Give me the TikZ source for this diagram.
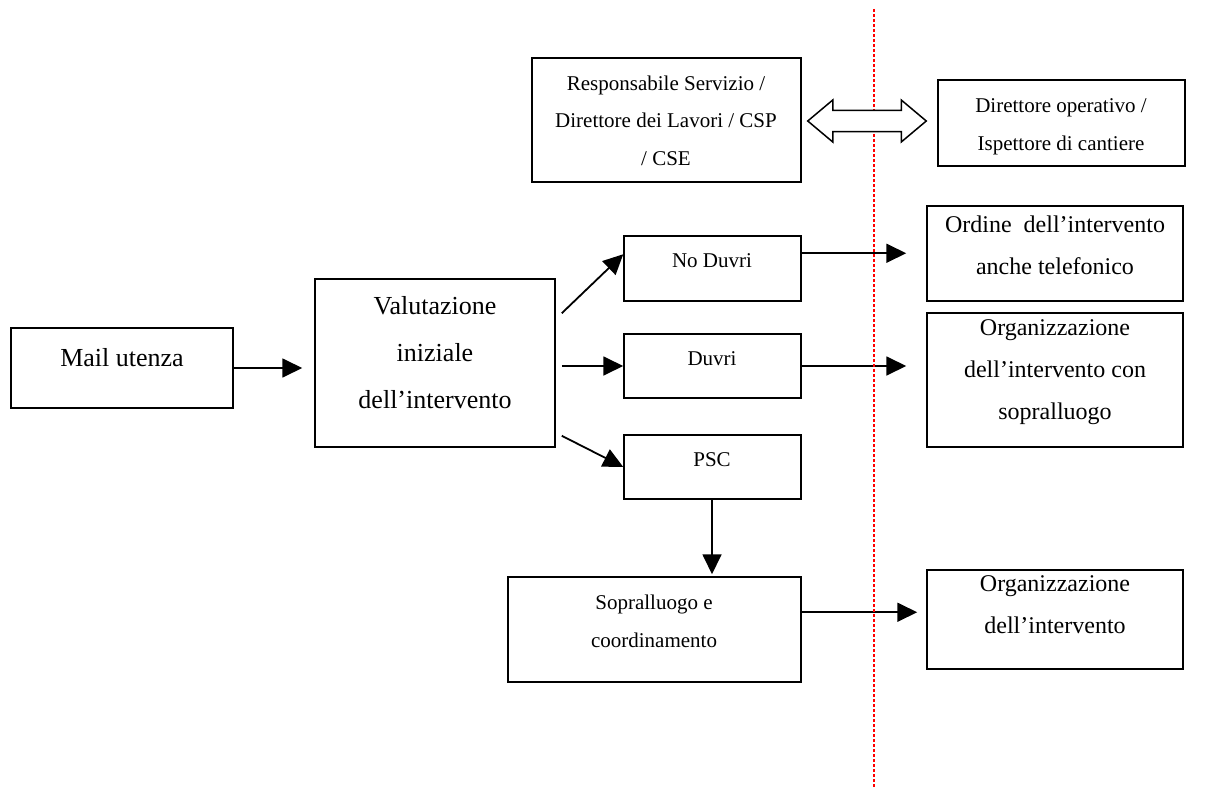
\documentclass[tikz,border=0pt]{standalone}
\usepackage{fontspec}
\setmainfont{Liberation Serif}
\usetikzlibrary{arrows.meta,calc}
\begin{document}
\begin{tikzpicture}[x=1pt,y=-1pt,
  box/.style={draw, line width=1.5pt, inner sep=0pt},
  bigtxt/.style={font=\fontsize{26}{47}\selectfont, align=center, anchor=base, inner sep=0pt},
  midtxt/.style={font=\fontsize{24}{42}\selectfont, align=center, anchor=base, inner sep=0pt},
  smalltxt/.style={font=\fontsize{21}{37.5}\selectfont, align=center, anchor=base, inner sep=0pt},
  arr/.style={line width=1.8pt, -{Triangle[length=20pt,width=19pt]}},
  divider/.style={draw=red, line width=2.8pt, dash pattern=on 2.8pt off 2.2pt},
  dblarrow/.style={draw, line width=1.5pt, fill=white, line join=miter}
]
\useasboundingbox (0,0) rectangle (1209,789);

% boxes
\node[box, minimum width=269pt, minimum height=124pt] (resp) at (666.5,120) {};
\node[box, minimum width=247pt, minimum height=86pt] (dir) at (1061.5,123) {};
\node[box, minimum width=222pt, minimum height=80pt] (mail) at (122,368) {};
\node[box, minimum width=240pt, minimum height=168pt] (val) at (435,363) {};
\node[box, minimum width=177pt, minimum height=65pt] (noduvri) at (712.5,268.5) {};
\node[box, minimum width=177pt, minimum height=64pt] (duvri) at (712.5,366) {};
\node[box, minimum width=177pt, minimum height=64pt] (psc) at (712.5,467) {};
\node[box, minimum width=293pt, minimum height=105pt] (sopr) at (654.5,629.5) {};
\node[box, minimum width=256pt, minimum height=95pt] (ordine) at (1055,253.5) {};
\node[box, minimum width=256pt, minimum height=134pt] (orgsop) at (1055,380) {};
\node[box, minimum width=256pt, minimum height=99pt] (org) at (1055,619.5) {};

% texts (base anchor = baseline of the last line)
\node[smalltxt] (respt) at (666,165) {Responsabile Servizio /\\Direttore dei Lavori / CSP\\/ CSE};
\node[smalltxt] (dirt) at (1061,150) {Direttore operativo /\\Ispettore di cantiere};
\node[bigtxt] (mailt) at (122,366) {Mail utenza};
\node[bigtxt] (valt) at (435,408) {Valutazione\\iniziale\\dell’intervento};
\node[smalltxt] (noduvrit) at (712,267) {No Duvri};
\node[smalltxt] (duvrit) at (712,365) {Duvri};
\node[smalltxt] (psct) at (712,466) {PSC};
\node[smalltxt] (soprt) at (654,647) {Sopralluogo e\\coordinamento};
\node[midtxt] (ordinet) at (1055,274) {Ordine\ \ dell’intervento\\anche telefonico};
\node[midtxt] (orgsopt) at (1055,419) {Organizzazione\\dell’intervento con\\sopralluogo};
\node[midtxt] (orgt) at (1055,633) {Organizzazione\\dell’intervento};

% connectors
\draw[arr, shorten >=12pt] (mail.east) -- (val.west |- mail.east);
\draw[arr] ($(val.north east)+(6,35)$) -- ($(noduvri.north west)+(0,19)$);
\draw[arr, shorten <=6pt] (val.east |- duvri.west) -- (duvri.west);
\draw[arr] ($(val.south east)+(6,-12)$) -- (psc.west);
\draw[arr, shorten >=20pt] ($(noduvri.north east)+(0,18)$) coordinate (a1) -- (ordine.west |- a1);
\draw[arr, shorten >=20pt] (duvri.east) -- (orgsop.west |- duvri.east);
\draw[arr, shorten >=2pt] ([xshift=-0.5pt]psc.south) coordinate (a3) -- (a3 |- sopr.north);
\draw[arr, shorten >=9pt] ($(sopr.north east)+(0,36)$) coordinate (a2) -- (org.west |- a2);

% divider
\coordinate (vtop) at (874,9);
\coordinate (vbot) at (874,789);
\draw[divider] (vtop) -- (vbot);

% double arrow
\coordinate (dl) at ($(resp.east)+(6,1)$);
\coordinate (dr) at ($(dir.west |- dl)+(-11,0)$);
\draw[dblarrow] (dl) -- ++(25,-21) -- ++(0,10.5) -- ($(dr)+(-25,-10.5)$) -- ++(0,-10.5) -- (dr)
  -- ++(-25,21) -- ++(0,-10.5) -- ($(dl)+(25,10.5)$) -- ++(0,10.5) -- cycle;
\end{tikzpicture}
\end{document}
